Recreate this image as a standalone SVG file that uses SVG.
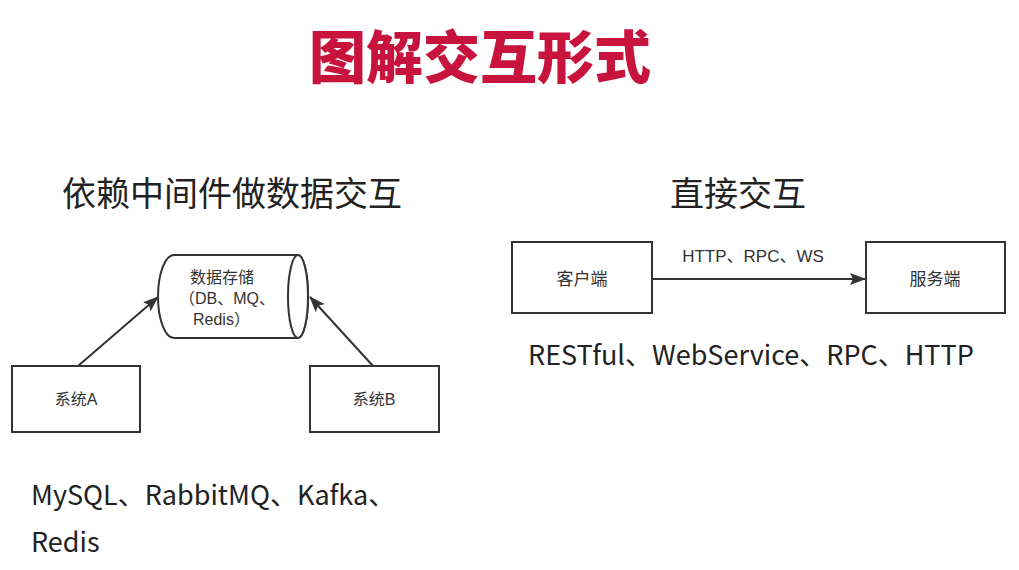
<svg xmlns="http://www.w3.org/2000/svg" width="1019" height="570" viewBox="0 0 1019 570">
<style>
.box{fill:#fff;stroke:#333;stroke-width:2}
.lbl{font-family:"Liberation Sans","Noto Sans CJK SC",sans-serif;font-size:16px;fill:#333;text-anchor:middle}
.lbl2{font-family:"Liberation Sans","Noto Sans CJK SC",sans-serif;font-size:16px;fill:#333;text-anchor:start}
.r{font-size:17px}
.head{font-family:"Noto Sans CJK SC","Noto Sans",sans-serif;font-size:34px;fill:#222;text-anchor:middle}
.big{font-family:"Noto Sans CJK SC","Noto Sans",sans-serif;font-size:27px;fill:#222}
.edge{stroke:#333;stroke-width:2;fill:none;marker-end:url(#ah)}
</style>
<defs>
<marker id="ah" viewBox="0 0 16 12" refX="15" refY="6" markerWidth="16" markerHeight="12" markerUnits="userSpaceOnUse" orient="auto">
<path d="M0,0 L16,6 L0,12 L3,6 Z" fill="#333"/>
</marker>
</defs>
<rect width="1019" height="570" fill="#fff"/>
<text id="title" x="480" y="78" text-anchor="middle" font-family="'Noto Sans CJK SC',sans-serif" font-weight="900" font-size="57" fill="#C8143C">图解交互形式</text>
<text class="head" x="232" y="206">依赖中间件做数据交互</text>
<text class="head" x="738" y="206">直接交互</text>
<g id="connectors">
<line class="edge" x1="78" y1="366" x2="158" y2="297"/>
<line class="edge" x1="373" y1="366" x2="310" y2="297"/>
<line class="edge" x1="652" y1="279" x2="865" y2="279"/>
<text class="lbl r" x="753" y="262">HTTP、RPC、WS</text>
</g>
<g id="store">
<path class="box" d="M174,255 L298,255 A10,41.5 0 0 1 298,338 L174,338 A16,41.5 0 0 1 174,255 Z"/>
<ellipse class="box" cx="298" cy="296.5" rx="10" ry="41.5" fill="none"/>
<text class="lbl" x="222" y="283">数据存储</text>
<text class="lbl2" x="179" y="304">（DB、MQ、</text>
<text class="lbl2" x="193" y="325">Redis）</text>
</g>
<g id="sysA">
<rect class="box" x="12" y="366" width="128" height="66"/>
<text class="lbl" x="76" y="405">系统A</text>
</g>
<g id="sysB">
<rect class="box" x="310" y="366" width="129" height="66"/>
<text class="lbl" x="374" y="405">系统B</text>
</g>
<g id="client">
<rect class="box" x="512" y="242" width="140" height="71"/>
<text class="lbl r" x="582" y="285">客户端</text>
</g>
<g id="server">
<rect class="box" x="866" y="242" width="139" height="71"/>
<text class="lbl r" x="935" y="285">服务端</text>
</g>
<text class="big" x="528" y="365">RESTful、WebService、RPC、HTTP</text>
<text class="big" x="31" y="505">MySQL、RabbitMQ、Kafka、</text>
<text class="big" x="31" y="552">Redis</text>
</svg>
